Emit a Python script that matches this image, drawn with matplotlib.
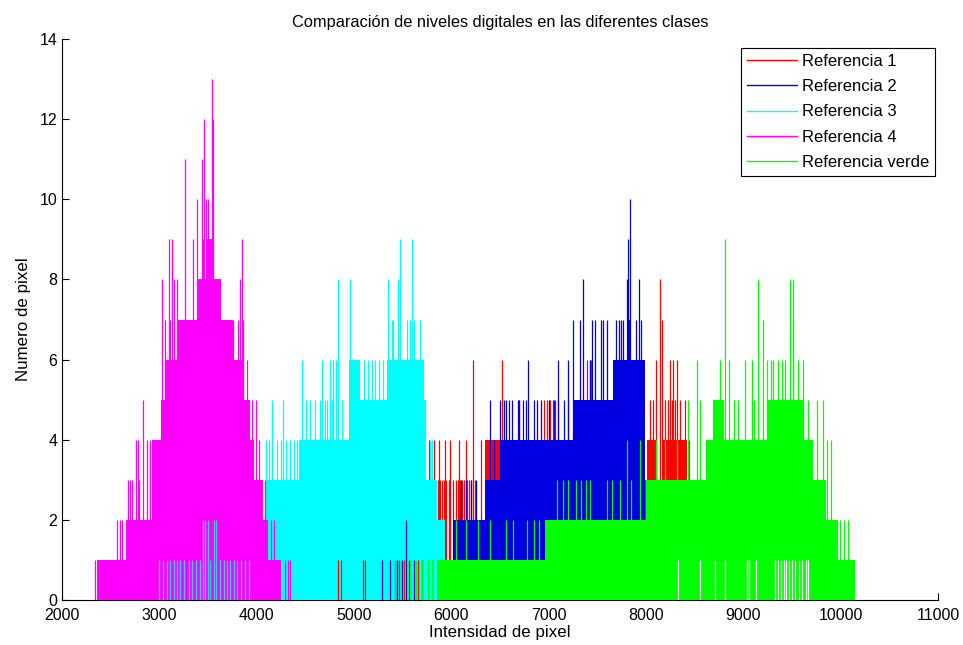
import matplotlib.pyplot as plt
from matplotlib.lines import Line2D

plt.rcParams['font.family'] = ['Liberation Sans', 'DejaVu Sans']

# nivel de relleno (escalones) y picos de cada clase
# Referencia 1 (rojo)
r_edges = [6350, 7950, 8010, 8110, 8160, 8420, 8490]
r_levels = [4, 3, 4, 3, 4, 3]
r_spike_x = [5770, 5790, 5815, 5820, 5840, 5860, 5870, 5885, 5905, 5925, 5930, 5950, 5975,
             5990, 6020, 6045, 6065, 6080, 6090, 6110, 6135, 6150, 6160, 6185, 6205, 6226,
             6240, 6300, 6517, 6700, 6950, 6980, 7010, 7040, 7070, 7100, 7200, 7390, 7420,
             7440, 7600, 7700, 8040, 8070, 8103, 8144, 8161, 8195, 8230, 8247, 8270, 8281,
             8300, 8315, 8350, 8400, 8440, 8560]
r_spike_h = [4, 3, 3, 4, 3, 3, 4, 3, 3, 3, 4, 3, 3,
             4, 3, 3, 3, 4, 3, 3, 3, 4, 3, 3, 3, 6,
             3, 4, 6, 5, 5, 5, 5, 5, 5, 5, 5, 6, 6,
             6, 5, 5, 5, 5, 6, 8, 7, 5, 5, 6, 5, 6,
             5, 6, 5, 5, 4, 1]
r_low_x = [4840, 4870, 5090, 5110, 5460, 5510, 5660]
r_low_h = [1, 1, 1, 1, 1, 1, 1]

# Referencia 2 (azul)
b_edges = [6020, 6350, 6500, 7250, 7660, 7800, 7850, 7990]
b_levels = [2, 3, 4, 5, 6, 7, 6]
b_spike_x = [5900, 6100, 6150, 6200, 6250, 6400, 6440, 6500, 6540, 6560, 6590, 6620, 6680,
             6700, 6740, 6770, 6790, 6850, 6880, 6920, 7000, 7050, 7100, 7160, 7200, 7254,
             7320, 7356, 7420, 7450, 7480, 7540, 7560, 7600, 7690, 7720, 7740, 7760, 7800,
             7818, 7836, 7900, 7932, 7950]
b_spike_h = [2, 3, 3, 3, 3, 5, 4, 5, 5, 5, 5, 5, 5,
             5, 5, 5, 6, 5, 5, 5, 5, 5, 6, 5, 6, 7,
             7, 8, 6, 7, 7, 7, 7, 7, 7, 7, 7, 7, 8,
             9, 10, 7, 8, 7]
b_low_x = [5290, 5370, 5420, 5440, 5490, 5530, 5560, 5620, 5700]
b_low_h = [1, 1, 1, 1, 1, 2, 1, 1, 1]

# Referencia 3 (cian)
c_edges = [4100, 4430, 4950, 5060, 5340, 5720, 5740, 5850, 5930]
c_levels = [3, 4, 6, 5, 6, 5, 3, 2]
c_spike_x = [4100, 4130, 4160, 4210, 4250, 4274, 4300, 4340, 4380, 4410, 4470, 4510, 4550,
             4600, 4650, 4668, 4700, 4720, 4750, 4770, 4788, 4820, 4839, 4880, 4959, 5100,
             5140, 5180, 5220, 5260, 5300, 5353, 5387, 5400, 5456, 5473, 5541, 5575, 5593,
             5620, 5680, 5700, 5780, 5800]
c_spike_h = [4, 4, 5, 4, 4, 5, 4, 4, 4, 4, 6, 5, 5,
             5, 5, 6, 5, 5, 6, 5, 6, 6, 8, 5, 8, 6,
             6, 6, 6, 6, 6, 8, 7, 7, 8, 9, 7, 7, 9,
             7, 7, 6, 4, 4]
c_low_x = [3000, 3040, 3080, 3110, 3150, 3180, 3210, 3250, 3300, 3340, 3380, 3420, 3450,
           3470, 3500, 3520, 3560, 3580, 3620, 3660, 3700, 3730, 3770, 3800, 3840, 3880, 3920]
c_low_h = [1, 1, 1, 1, 1, 1, 1, 1, 1, 1, 1, 1, 2,
           2, 2, 1, 2, 2, 1, 1, 1, 1, 1, 1, 1, 1, 1]

# Referencia 4 (magenta)
m_edges = [2360, 2660, 2920, 3020, 3060, 3190, 3400, 3490, 3555, 3630, 3760, 3850, 3930,
           3970, 4070, 4120, 4250]
m_levels = [1, 2, 4, 5, 6, 7, 8, 9, 8, 7, 6, 5, 4, 3, 2, 1]
m_spike_x = [2340, 2560, 2600, 2620, 2680, 2700, 2720, 2760, 2780, 2790, 2836, 2870, 2900,
             3031, 3058, 3103, 3110, 3127, 3154, 3178, 3230, 3254, 3264, 3343, 3384, 3435,
             3452, 3459, 3476, 3503, 3538, 3548, 3555, 3623, 3660, 3700, 3760, 3812, 3829,
             3846, 3863, 3900, 3950, 3990, 4020, 4090, 4150, 4180, 4290, 4320, 4340]
m_spike_h = [1, 2, 2, 2, 3, 3, 3, 4, 4, 3, 5, 4, 4,
             8, 7, 9, 7, 9, 8, 8, 7, 7, 11, 9, 10, 11,
             9, 12, 10, 10, 13, 12, 8, 8, 7, 6, 7, 7, 8,
             9, 7, 6, 5, 5, 4, 3, 2, 2, 1, 1, 1]

# Referencia verde
g_edges = [5850, 6960, 8000, 8620, 8690, 8800, 9240, 9620, 9720, 9850, 9970, 10150]
g_levels = [1, 2, 3, 4, 5, 4, 5, 4, 3, 2, 1]
g_spike_x = [5420, 5480, 5520, 5580, 5640, 5700, 5760, 5800, 6050, 6150, 6270, 6400, 6560,
             6630, 6780, 6850, 6900, 7090, 7150, 7200, 7280, 7330, 7380, 7420, 7600, 7650,
             7730, 7800, 7850, 7940, 8100, 8200, 8320, 8435, 8521, 8560, 8700, 8740, 8760,
             8812, 8850, 8900, 8950, 9017, 9086, 9110, 9154, 9206, 9240, 9280, 9308, 9360,
             9400, 9428, 9480, 9507, 9514, 9560, 9617, 9668, 9754, 9822, 9856, 9900, 9990,
             10030, 10080]
g_spike_h = [1, 1, 1, 1, 1, 1, 1, 1, 2, 2, 2, 2, 2,
             2, 2, 2, 2, 3, 3, 3, 3, 3, 3, 3, 3, 3,
             3, 4, 3, 4, 4, 4, 4, 5, 6, 5, 5, 5, 6,
             9, 6, 5, 5, 6, 6, 5, 8, 7, 6, 6, 6, 6,
             6, 6, 8, 8, 7, 6, 6, 5, 5, 5, 4, 4, 2,
             2, 2]
g_gap_x = [8330, 8560, 8710, 8810, 9040, 9060, 9130, 9330, 9360, 9390, 9420, 9440, 9470,
           9500, 9530, 9570, 9600, 9640, 9660]

labels = ['Referencia 1', 'Referencia 2', 'Referencia 3', 'Referencia 4', 'Referencia verde']
colors = ['#ff0000', '#0000e0', '#00ffff', '#ff00ff', '#00ff00']

fig = plt.figure(figsize=(9.63, 6.45), dpi=100)
ax = fig.add_axes([0.0644, 0.0698, 0.9096, 0.8697])

series = [
    (r_edges, r_levels, r_spike_x, r_spike_h),
    (b_edges, b_levels, b_spike_x, b_spike_h),
    (c_edges, c_levels, c_spike_x, c_spike_h),
    (m_edges, m_levels, m_spike_x, m_spike_h),
    (g_edges, g_levels, g_spike_x, g_spike_h),
]
for i, (edges, levels, sx, sh) in enumerate(series):
    z = 2 + i
    ax.stairs(levels, edges, fill=True, color=colors[i], lw=0, zorder=z)
    ax.vlines(sx, 0, sh, color=colors[i], lw=0.9, zorder=z)

# trazos bajos que asoman entre las otras clases
ax.vlines(r_low_x, 0, r_low_h, color=colors[0], lw=0.9, zorder=4.5)
ax.vlines(b_low_x, 0, b_low_h, color=colors[1], lw=0.9, zorder=4.5)
ax.vlines(c_low_x, 0, c_low_h, color='#40c8f0', lw=0.9, zorder=5.5)
ax.vlines(g_gap_x, 0, 1, color='white', lw=0.9, zorder=6.5)

ax.set_xlim(2000, 11000)
ax.set_ylim(0, 14)
ax.set_xticks(range(2000, 11001, 1000))
ax.set_yticks(range(0, 15, 2))
ax.spines['top'].set_visible(False)
ax.spines['right'].set_visible(False)
ax.tick_params(direction='in', length=5, labelsize=11.5)
ax.tick_params(axis='x', pad=6)

ax.set_title('Comparación de niveles digitales en las diferentes clases', fontsize=11.8, pad=9)
ax.set_xlabel('Intensidad de pixel', fontsize=12.2, labelpad=1)
ax.set_ylabel('Numero de pixel', fontsize=12.2, labelpad=6)

handles = [Line2D([], [], color=c, lw=1) for c in colors]
leg = ax.legend(handles, labels, loc='upper right', fontsize=12, fancybox=False,
                edgecolor='black', framealpha=1, handlelength=3.0, handletextpad=0.3,
                borderpad=0.35, labelspacing=0.62, borderaxespad=0,
                bbox_to_anchor=(0.9966, 0.984))
leg.get_frame().set_linewidth(0.8)
leg.set_zorder(10)

fig.savefig('out.png', dpi=100)
